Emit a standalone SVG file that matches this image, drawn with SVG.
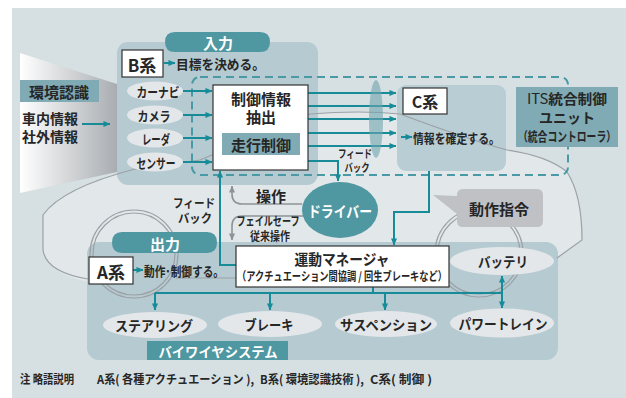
<svg xmlns="http://www.w3.org/2000/svg" width="626" height="398" viewBox="0 0 626 398">
<defs>
<linearGradient id="funnel" x1="0" y1="0" x2="1" y2="0">
<stop offset="0" stop-color="#ffffff"/>
<stop offset="1" stop-color="#a9adb1"/>
</linearGradient>
<marker id="ah" markerUnits="userSpaceOnUse" viewBox="0 0 8 8" refX="7.5" refY="4" markerWidth="7" markerHeight="7" orient="auto-start-reverse"><path d="M0,0.5 L8,4 L0,7.5 z" fill="#178c98"/></marker>
<marker id="ahg" markerUnits="userSpaceOnUse" viewBox="0 0 8 8" refX="7.5" refY="4" markerWidth="7" markerHeight="7" orient="auto-start-reverse"><path d="M0,0.5 L8,4 L0,7.5 z" fill="#8e9397"/></marker>
<style>
.t{font-family:"Noto Sans CJK JP","Noto Sans",sans-serif;font-weight:700;fill:#262626;dominant-baseline:central;text-anchor:middle}
.w{fill:#fff}
.l{text-anchor:start}
.link{fill:none;stroke:#178c98;stroke-width:2}
.grey{fill:none;stroke:#8e9397;stroke-width:1.6}
.box{fill:#fff;stroke:#333;stroke-width:1.2}
.panel{fill:#b5cad1}
.pill{fill:#4f97a1}
.tag{fill:#80aab4}
.oval{fill:#e4e7e9}
.car{fill:none;stroke:#9ca1a5;stroke-width:1.2}
</style>
</defs>

<!-- backdrop and car body -->
<rect x="12" y="8" width="614" height="390" fill="#d6e0e3"/>
<path d="M43,250 L43,215 Q62,188 135,169 L200,160 L310,114 Q360,110 400,114 Q470,140 507,150 Q548,156 567,172 Q582,195 582,240 L557,258 L557,282 L88,282 Q46,272 43,250 Z" fill="#e2e8ea"/>

<!-- environment recognition funnel -->
<g id="env">
<polygon points="20,53 117,84 117,172 20,193" fill="url(#funnel)"/>
<rect x="20" y="80" width="79" height="22" class="tag"/>
<text x="59" y="91" class="t" font-size="15">環境認識</text>
<text x="22" y="118" class="t l" font-size="14">車内情報</text>
<text x="22" y="136" class="t l" font-size="14">社外情報</text>
</g>

<!-- panels -->
<rect id="input-panel" x="117" y="42" width="201" height="143" rx="11" class="panel"/>
<rect id="c-panel" x="397" y="85" width="109" height="86" rx="9" fill="#b9cdd4"/>
<rect id="bywire-panel" x="87" y="242" width="471" height="118" rx="12" class="panel"/>

<!-- car outline and wheels -->
<g id="car">
<path class="car" d="M88,279 Q46,272 43,250 L43,215 Q62,188 135,169 L200,160 L310,114 Q360,110 400,114 Q470,140 507,150 Q548,156 567,172 Q582,195 582,240 L557,258"/>
<path class="car" d="M176,278 L236,278"/>
<circle cx="134" cy="254" r="44" class="car"/>
<circle cx="134" cy="254" r="41" class="car"/>
<circle cx="479" cy="253" r="44" class="car"/>
<circle cx="479" cy="253" r="41" class="car"/>
</g>

<!-- ITS unit boundary -->
<rect id="its-boundary" x="192" y="77" width="376" height="98" rx="8" fill="none" stroke="#4a9aa6" stroke-width="2" stroke-dasharray="8 5"/>

<!-- connectors -->
<g id="connectors">
<path class="link" d="M82,124 H110" marker-end="url(#ah)"/>
<path class="link" d="M164,63 H175" marker-end="url(#ah)"/>
<path class="link" d="M183,91 H212" marker-end="url(#ah)"/>
<path class="link" d="M183,115 H212" marker-end="url(#ah)"/>
<path class="link" d="M183,138 H212" marker-end="url(#ah)"/>
<path class="link" d="M183,162 H212" marker-end="url(#ah)"/>
<path class="link" d="M308,93 H396" marker-end="url(#ah)"/>
<path class="link" d="M308,106 H396" marker-end="url(#ah)"/>
<path class="link" d="M308,119 H396" marker-end="url(#ah)"/>
<path class="link" d="M308,133 H396" marker-end="url(#ah)"/>
<path class="link" d="M308,146 H396" marker-end="url(#ah)"/>
<path class="link" d="M308,161 H338 V181" marker-end="url(#ah)"/>
<path class="link" d="M401,137 H412" marker-end="url(#ah)"/>
<path class="link" d="M429,171 V212 H394 V245" marker-end="url(#ah)"/>
<path class="link" d="M236,265 H220 V171" marker-end="url(#ah)"/>
<path class="grey" d="M302,204 H242 Q232,204 232,194 V186" marker-end="url(#ahg)"/>
<path class="grey" d="M306,216 H242 Q232,216 232,226 V240" marker-end="url(#ahg)"/>
<path class="link" d="M133,270 H143" marker-end="url(#ah)"/>
<path class="link" d="M373,287 V293 M155,293 H502"/>
<path class="link" d="M155,293 V310" marker-end="url(#ah)"/>
<path class="link" d="M270,293 V310" marker-end="url(#ah)"/>
<path class="link" d="M385,293 V310" marker-end="url(#ah)"/>
<path class="link" d="M502,276 V308" marker-start="url(#ah)" marker-end="url(#ah)"/>
<ellipse cx="376" cy="119" rx="7" ry="39" fill="#6fa3ae" opacity="0.6"/>
</g>

<!-- input -->
<g id="input">
<path d="M175,32 H260 Q270,32 270,42 Q270,52 260,52 H175 Q165,52 165,42 Q165,32 175,32 Z" class="pill"/>
<text x="218" y="42" class="t w" font-size="15">入力</text>
</g>
<g id="b-kei">
<rect x="122" y="50" width="41" height="27" class="box"/>
<text x="142" y="64" class="t" font-size="17">B系</text>
<text x="176" y="63" class="t l" font-size="13" textLength="89" lengthAdjust="spacingAndGlyphs">目標を決める。</text>
</g>
<g id="sensor-navi"><ellipse cx="155" cy="91" rx="28" ry="9.5" class="oval"/><text x="158" y="91" class="t" font-size="13" textLength="43" lengthAdjust="spacingAndGlyphs">カーナビ</text></g>
<g id="sensor-camera"><ellipse cx="155" cy="115" rx="28" ry="9.5" class="oval"/><text x="154" y="115" class="t" font-size="13" textLength="33" lengthAdjust="spacingAndGlyphs">カメラ</text></g>
<g id="sensor-radar"><ellipse cx="155" cy="138" rx="28" ry="9.5" class="oval"/><text x="156" y="138" class="t" font-size="13" textLength="28" lengthAdjust="spacingAndGlyphs">レーダ</text></g>
<g id="sensor-other"><ellipse cx="155" cy="162" rx="28" ry="9.5" class="oval"/><text x="156" y="162" class="t" font-size="13" textLength="39" lengthAdjust="spacingAndGlyphs">センサー</text></g>

<!-- control information extraction -->
<g id="extract">
<rect x="213" y="85" width="95" height="85" class="box"/>
<text x="261" y="98" class="t" font-size="15">制御情報</text>
<text x="261" y="116" class="t" font-size="15">抽出</text>
<rect x="222" y="133" width="78" height="22" class="tag"/>
<text x="261" y="144" class="t" font-size="15">走行制御</text>
</g>

<!-- C system -->
<g id="c-kei">
<rect x="403" y="88" width="44" height="26" class="box"/>
<text x="425" y="101" class="t" font-size="16">C系</text>
<text x="413" y="137" class="t l" font-size="13" textLength="87" lengthAdjust="spacingAndGlyphs">情報を確定する。</text>
</g>

<!-- integrated controller -->
<g id="its-unit">
<rect x="516" y="87" width="102" height="60" class="tag"/>
<text x="567" y="98" class="t" font-size="14" textLength="80" lengthAdjust="spacingAndGlyphs"><tspan font-weight="400">ITS</tspan>統合制御</text>
<text x="567" y="117" class="t" font-size="14">ユニット</text>
<text x="567" y="135" class="t" font-size="13" textLength="98" lengthAdjust="spacingAndGlyphs">（統合コントローラ）</text>
</g>

<!-- labels on links -->
<g id="link-labels">
<text x="355" y="153" class="t" font-size="11" textLength="34" lengthAdjust="spacingAndGlyphs">フィード</text>
<text x="357" y="167" class="t" font-size="11" textLength="25" lengthAdjust="spacingAndGlyphs">バック</text>
<text x="194" y="202" class="t" font-size="12" textLength="42" lengthAdjust="spacingAndGlyphs">フィード</text>
<text x="195" y="217" class="t" font-size="12" textLength="34" lengthAdjust="spacingAndGlyphs">バック</text>
<text x="271" y="195" class="t" font-size="15">操作</text>
<text x="268" y="220" class="t" font-size="12" textLength="63" lengthAdjust="spacingAndGlyphs">フェイルセーフ</text>
<text x="270" y="235" class="t" font-size="12" textLength="40" lengthAdjust="spacingAndGlyphs">従来操作</text>
</g>

<!-- driver -->
<g id="driver">
<ellipse cx="340" cy="210" rx="38" ry="28" class="pill"/>
<text x="340" y="210" class="t w" font-size="15" textLength="64" lengthAdjust="spacingAndGlyphs">ドライバー</text>
</g>

<!-- motion command callout -->
<g id="command">
<path d="M463,189 H537 Q543,189 543,195 V221 Q543,227 537,227 H463 Q457,227 457,221 V214 L433,195 L457,196 V195 Q457,189 463,189 Z" fill="#bfc1c4"/>
<text x="499" y="208" class="t" font-size="15">動作指令</text>
</g>

<!-- output -->
<g id="output">
<path d="M122,232 H207 Q217,232 217,242.5 Q217,253 207,253 H122 Q112,253 112,242.5 Q112,232 122,232 Z" class="pill"/>
<text x="165" y="243" class="t w" font-size="15">出力</text>
</g>
<g id="a-kei">
<rect x="89" y="257" width="44" height="27" class="box"/>
<text x="111" y="271" class="t" font-size="17">A系</text>
<text x="144" y="270" class="t l" font-size="13" textLength="80" lengthAdjust="spacingAndGlyphs">動作･制御する。</text>
</g>

<!-- motion manager -->
<g id="manager">
<rect x="236" y="246" width="213" height="41" class="box"/>
<text x="342" y="258" class="t" font-size="15" textLength="95" lengthAdjust="spacingAndGlyphs">運動マネージャ</text>
<text x="342" y="275" class="t" font-size="12" textLength="210" lengthAdjust="spacingAndGlyphs">（アクチュエーション間協調 / 回生ブレーキなど）</text>
</g>

<!-- by-wire actuators -->
<g id="battery"><ellipse cx="502" cy="261" rx="52" ry="14" class="oval"/><text x="503" y="261" class="t" font-size="14" textLength="50" lengthAdjust="spacingAndGlyphs">バッテリ</text></g>
<g id="steering"><ellipse cx="155" cy="325" rx="52" ry="13" class="oval"/><text x="154" y="325" class="t" font-size="14" textLength="78" lengthAdjust="spacingAndGlyphs">ステアリング</text></g>
<g id="brake"><ellipse cx="270" cy="324" rx="52" ry="13" class="oval"/><text x="269" y="324" class="t" font-size="14" textLength="49" lengthAdjust="spacingAndGlyphs">ブレーキ</text></g>
<g id="suspension"><ellipse cx="386" cy="324" rx="51" ry="13" class="oval"/><text x="386" y="324" class="t" font-size="14" textLength="92" lengthAdjust="spacingAndGlyphs">サスペンション</text></g>
<g id="powertrain"><ellipse cx="502" cy="323" rx="52" ry="14.5" class="oval"/><text x="503" y="323" class="t" font-size="14" textLength="89" lengthAdjust="spacingAndGlyphs">パワートレイン</text></g>
<g id="bywire-label">
<rect x="147" y="341" width="141" height="19" class="pill"/>
<text x="218" y="351" class="t w" font-size="14" textLength="119" lengthAdjust="spacingAndGlyphs">バイワイヤシステム</text>
</g>

<!-- footnote -->
<g id="note">
<text x="20" y="378" class="t l" font-size="12" textLength="54" lengthAdjust="spacingAndGlyphs">注 略語説明</text>
<text x="97" y="378" class="t l" font-size="12" textLength="157" lengthAdjust="spacingAndGlyphs">A系( 各種アクチュエーション ),</text>
<text x="260" y="378" class="t l" font-size="12" textLength="104" lengthAdjust="spacingAndGlyphs">B系( 環境認識技術 ),</text>
<text x="370" y="378" class="t l" font-size="12" textLength="62" lengthAdjust="spacingAndGlyphs">C系( 制御 )</text>
</g>
</svg>
